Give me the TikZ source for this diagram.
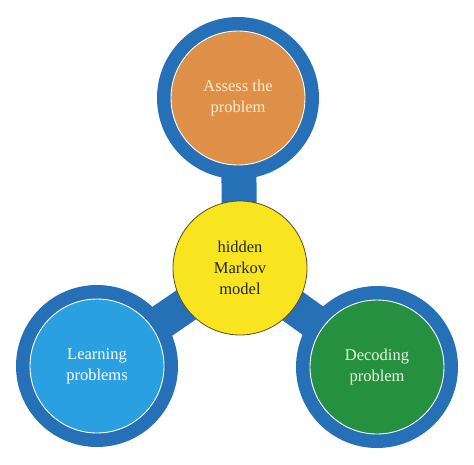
\documentclass[tikz,border=0pt]{standalone}
\usepackage{fontspec}
\setmainfont{Liberation Serif}
\definecolor{ringblue}{HTML}{2670B8}
\definecolor{orangefill}{HTML}{DE9048}
\definecolor{lightbluefill}{HTML}{2AA0E0}
\definecolor{greenfill}{HTML}{259140}
\definecolor{yellowfill}{HTML}{F8E520}
\definecolor{cremetext}{HTML}{FCEBD0}
\definecolor{greentext}{HTML}{E8F5E0}
\definecolor{darkborder}{HTML}{5A4A20}
\tikzset{
  ring/.style={circle, fill=ringblue, minimum size=162pt, inner sep=0pt},
  innerdisc/.style={circle, draw=white, line width=0.9pt, minimum size=134pt, inner sep=0pt, align=center, font=\fontsize{16.5}{21}\selectfont},
  hub/.style={circle, fill=yellowfill, draw=darkborder, line width=0.8pt, minimum size=134pt, inner sep=0pt, align=center, font=\fontsize{16.5}{21}\selectfont, text=black!85},
  bar/.style={draw=ringblue, line width=35pt}
}
\begin{document}
\begin{tikzpicture}[x=1pt,y=-1pt]
\useasboundingbox (0,0) rectangle (474,464);
\coordinate (pT) at (238,98);
\coordinate (pL) at (97,366);
\coordinate (pR) at (377,367);
\coordinate (pC) at (240,268);
\draw[bar] (pT) -- (pC);
\draw[bar] (pL) -- (pC);
\draw[bar] (pR) -- (pC);
\node[ring] (ringT) at (pT) {};
\node[ring] (ringL) at (pL) {};
\node[ring] (ringR) at (pR) {};
\node[innerdisc, fill=orangefill, text=cremetext] (assess) at (pT) {Assess the\\problem};
\node[innerdisc, fill=lightbluefill, text=white] (learn) at (pL) {Learning\\problems};
\node[innerdisc, fill=greenfill, text=greentext] (decode) at (pR) {Decoding\\problem};
\node[hub] (hmm) at (pC) {hidden\\Markov\\model};
\end{tikzpicture}
\end{document}
